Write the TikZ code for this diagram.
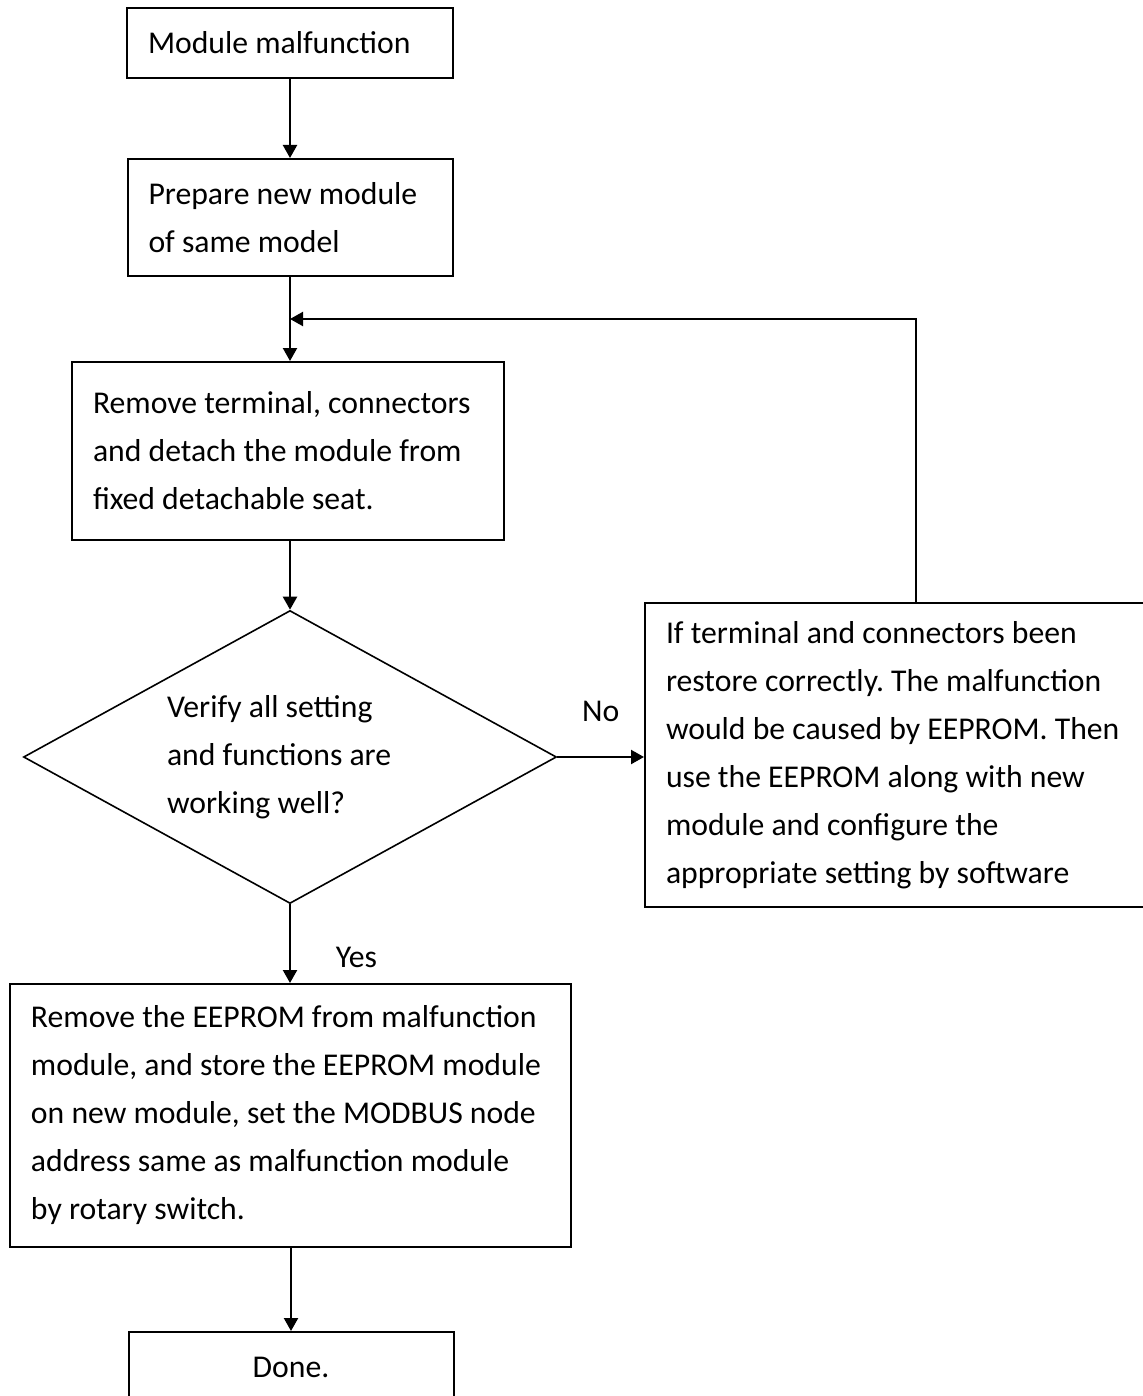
\documentclass[tikz,border=0pt]{standalone}
\usepackage{fontspec}
\setmainfont{Carlito}
\usetikzlibrary{shapes.geometric,arrows.meta}
\frenchspacing

\begin{document}
\begin{tikzpicture}[x=0.5pt, y=-0.5pt,
  font=\fontsize{15.85pt}{24pt}\selectfont,
  box/.style={draw, line width=1pt, rectangle, align=flush left, inner xsep=10.5pt, inner ysep=0pt},
  flow/.style={line width=1.1pt, -{Triangle[length=6.5pt,width=7pt]}}]
  \useasboundingbox (0,0) rectangle (1142,1396);
  % main column
  \node[box, text width=142pt, minimum height=35pt] (fail) at (290,43) {Module malfunction};
  \node[box, text width=141.5pt, minimum height=58.5pt] (prep) at (290,217.5)
    {Prepare new module\\of same model};
  \node[box, text width=195pt, minimum height=89pt] (detach) at (288,451)
    {Remove terminal, connectors\\and detach the module from\\fixed detachable seat.};
  \node[draw, diamond, aspect=1.82, line width=0.8pt, minimum width=266.5pt, minimum height=146.5pt,
    inner sep=0pt, text width=123pt, align=flush left] (check) at (290,757)
    {Verify all setting\\and functions are\\working well?};
  \node[box, text width=259.5pt, minimum height=131.5pt] (swap) at (290.5,1115.5)
    {Remove the EEPROM from malfunction\\module, and store the EEPROM module\\on new module, set the MODBUS node\\address same as malfunction module\\by rotary switch.};
  \node[box, text width=141.5pt, minimum height=35pt, align=center] (done) at (291,1367) {Done.};
  % side branch
  \node[box, text width=229pt, minimum height=152pt] (fix) at (895,755)
    {If terminal and connectors been\\restore correctly. The malfunction\\would be caused by EEPROM. Then\\use the EEPROM along with new\\module and configure the\\appropriate setting by software};
  \coordinate (join) at (290,319);
  \coordinate (turn) at (916,319);
  % connectors
  \draw[flow] (fail.south) -- (prep.north);
  \draw[flow] (prep.south) -- (prep.south |- detach.north);
  \draw[flow] (turn |- fix.north) -- (turn) -- (join);
  \draw[flow] (detach.south -| check.north) -- (check.north);
  \draw[flow] (check.east) -- (check.east -| fix.west) node[midway, above=14pt] {No};
  \draw[flow] (check.south) -- (swap.north -| check.south) node[pos=0.68, right=19pt] {Yes};
  \draw[flow] (swap.south -| done.north) -- (done.north);
\end{tikzpicture}
\end{document}
